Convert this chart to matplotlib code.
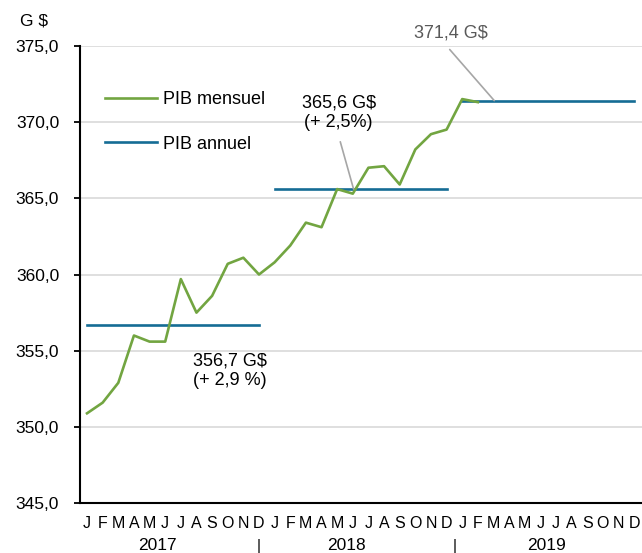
import numpy as np
import matplotlib as mpl
import matplotlib.pyplot as plt

plt.rcParams['font.family'] = ['Liberation Sans', 'DejaVu Sans']

# months Jan 2017 .. Dec 2019
months = ['J', 'F', 'M', 'A', 'M', 'J', 'J', 'A', 'S', 'O', 'N', 'D'] * 3
years = ['2017', '2018', '2019']

# monthly GDP, Jan 2017 .. Feb 2019 (G$)
pib_mensuel = [350.9, 351.6, 352.9, 356.0, 355.6, 355.6, 359.7, 357.5, 358.6, 360.7, 361.1, 360.0,
               360.8, 361.9, 363.4, 363.1, 365.6, 365.3, 367.0, 367.1, 365.9, 368.2, 369.2, 369.5,
               371.5, 371.3]
# annual GDP
pib_annuel = [356.7, 365.6, 371.4]
annot_annuel = ['356,7 G$\n(+ 2,9 %)', '365,6 G$\n(+ 2,5%)', '371,4 G$']

green = '#72a541'
blue = '#156c95'
grid = '#d9d9d9'

fig = plt.figure(figsize=(6.42, 5.53), dpi=100)
W, H = 642, 553
ax = fig.add_axes([80 / W, 1 - 503.3 / H, (642 - 80) / W, (503.3 - 45.7) / H])

x = np.arange(len(pib_mensuel))
ax.plot(x, pib_mensuel, color=green, lw=1.9, label='PIB mensuel', zorder=3)
for i, v in enumerate(pib_annuel):
    xs = [12 * i, 12 * i + 11]
    ax.plot(xs, [v, v], color=blue, lw=1.9, zorder=2,
            label='PIB annuel' if i == 0 else None)

ax.set_ylim(345, 375)
ax.set_xlim(-0.45, 35.5)
ax.set_yticks(np.arange(345, 376, 5))
ax.set_yticklabels([f'{v:.1f}'.replace('.', ',') for v in np.arange(345, 376, 5)])
ax.yaxis.grid(True, color=grid, lw=1.2)
ax.set_axisbelow(True)
ax.set_xticks(range(36))
ax.set_xticklabels(months)
ax.tick_params(axis='x', length=0, pad=9, labelsize=11.5)
ax.tick_params(axis='y', length=4, width=1.3, pad=11, labelsize=12.5, direction='out')
for s in ['top', 'right']:
    ax.spines[s].set_visible(False)
for s in ['left', 'bottom']:
    ax.spines[s].set_linewidth(1.5)

# year labels and separators
yr_pos = [4.5, 16.6, 29.4]
for p, y in zip(yr_pos, years):
    ax.text(p, -0.093, y, transform=ax.get_xaxis_transform(), ha='center', va='center', fontsize=12.5)
for p in [11.0, 23.5]:
    ax.text(p, -0.093, '|', transform=ax.get_xaxis_transform(), ha='center', va='center', fontsize=11)

ax.text(-3.4, 1.055, 'G $', transform=ax.get_xaxis_transform(), ha='center', va='center',
        fontsize=12.5)

# annotations
ax.text(6.8, pib_annuel[0] - 3.0, annot_annuel[0], ha='left', va='center', fontsize=13)
ax.text(16.1, pib_annuel[1] + 5.0, annot_annuel[1], ha='center', va='center', fontsize=13)
ax.annotate('', xy=(17.05, pib_annuel[1]), xytext=(16.2, pib_annuel[1] + 3.1),
            arrowprops=dict(arrowstyle='-', color='#a6a6a6', lw=1.2, shrinkA=0, shrinkB=0))
ax.text(23.3, pib_annuel[2] + 4.4, annot_annuel[2], ha='center', va='center', fontsize=13,
        color='#595959', clip_on=False)
ax.annotate('', xy=(26.05, pib_annuel[2]), xytext=(23.2, pib_annuel[2] + 3.35),
            arrowprops=dict(arrowstyle='-', color='#a6a6a6', lw=1.2, shrinkA=0, shrinkB=0),
            annotation_clip=False)

ax.legend(loc='upper left', bbox_to_anchor=(0.044, 0.90), frameon=False, fontsize=13,
          handlelength=2.9, handletextpad=0.3, labelspacing=1.5, borderpad=0, borderaxespad=0)

fig.savefig('out.png', dpi=100)
